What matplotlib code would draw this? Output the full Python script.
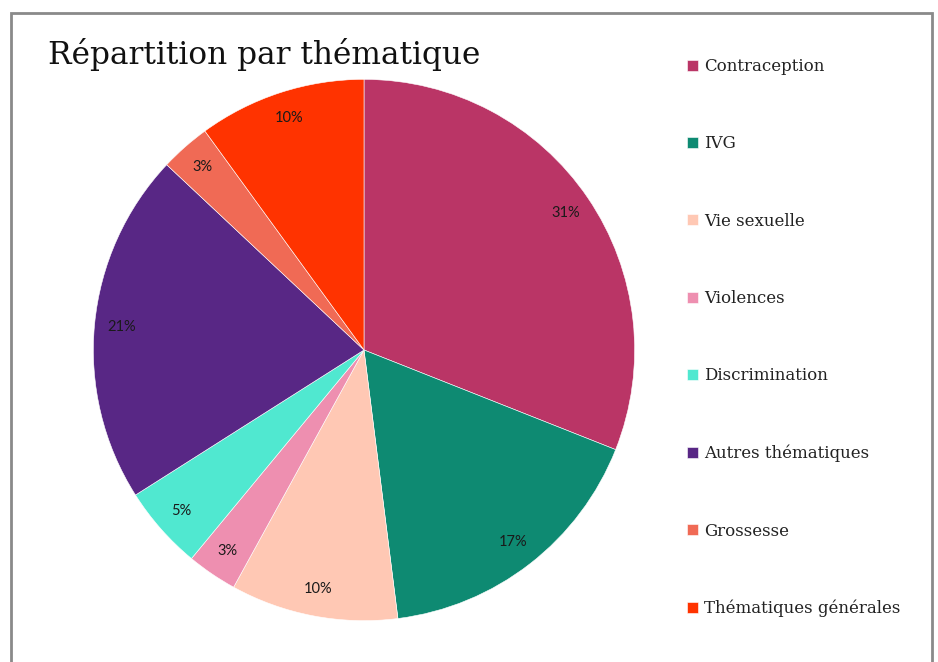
import matplotlib.pyplot as plt
from matplotlib.patches import Rectangle

labels = ["Contraception", "IVG", "Vie sexuelle", "Violences", "Discrimination",
          "Autres thématiques", "Grossesse", "Thématiques générales"]
values = [31, 17, 10, 3, 5, 21, 3, 10]
colors = ["#BA3566", "#0E8A72", "#FFC8B4", "#EE8FB0", "#50E8D0",
          "#582785", "#F06A55", "#FF3300"]

W, H = 938, 662
fig = plt.figure(figsize=(W / 100, H / 100), dpi=100)

# grey frame around the chart (bottom edge runs off the picture)
fig.patches.append(Rectangle((11 / W, -0.05), 921 / W, 1.05 - 13 / H, transform=fig.transFigure,
                             fill=False, edgecolor="#8a8a8a", linewidth=2))

cx, cy, r = 364, 350, 272
ax = fig.add_axes([(cx - r) / W, (H - cy - r) / H, 2 * r / W, 2 * r / H])
wedges, texts, autotexts = ax.pie(values, colors=colors, startangle=90, counterclock=False,
                                  autopct="%d%%", pctdistance=0.9,
                                  wedgeprops=dict(edgecolor="white", linewidth=0.4),
                                  textprops=dict(color="#1a1a1a", fontsize=10.5, family="Lato"))
ax.set_xlim(-1.005, 1.005)
ax.set_ylim(-1.005, 1.005)
ax.set_aspect("equal")

fig.text(48 / W, 1 - 64 / H, "Répartition par thématique", family="DejaVu Serif",
         fontsize=22.5, color="#111111", va="baseline")

leg = fig.legend(wedges, labels, loc="upper left", bbox_to_anchor=(672 / W, 1 - 43 / H),
                 frameon=False, prop=dict(family="DejaVu Serif", size=12),
                 handlelength=0.65, handleheight=0.65, handletextpad=0.4, labelspacing=3.62)
for t in leg.get_texts():
    t.set_color("#222222")

fig.savefig("out.png", dpi=100)
